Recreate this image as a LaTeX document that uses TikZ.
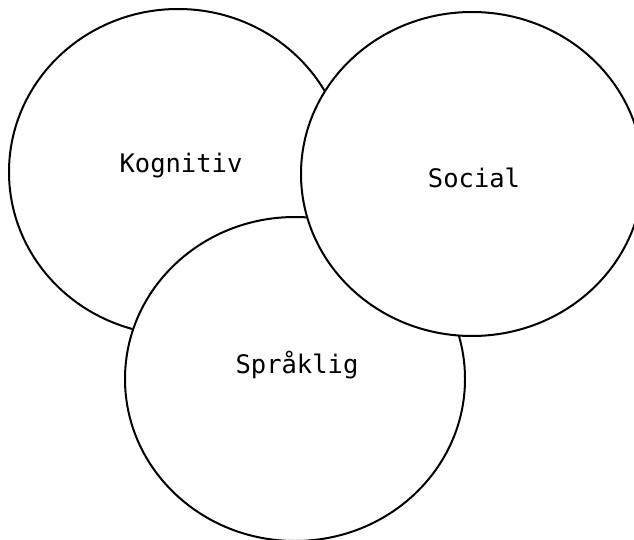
\documentclass[tikz,border=0pt]{standalone}
\usepackage{fontspec}
\setmonofont{DejaVu Sans Mono}
\begin{document}
\begin{tikzpicture}[x=1pt,y=-1pt,
  circ/.style={draw=black,line width=2pt,fill=white},
  lbl/.style={font=\ttfamily\fontsize{25.5}{29}\selectfont,anchor=base,inner sep=0pt}]
\useasboundingbox (0,0) rectangle (634,540);
\fill[white] (0,0) rectangle (634,540);
\clip (0,0) rectangle (634,540);
\coordinate (ck) at (178,172);
\coordinate (cs) at (295,379);
\coordinate (co) at (472,174);
\draw[circ] (ck) ellipse [x radius=169pt, y radius=163pt];
\draw[circ] (cs) ellipse [x radius=170pt, y radius=162pt];
\draw[circ] (co) ellipse [x radius=171pt, y radius=162pt];
\node[lbl] (kog) at (181,173) {Kognitiv};
\node[lbl] (soc) at (474,187) {Social};
\node[lbl] (spr) at (297,373) {Språklig};
\end{tikzpicture}
\end{document}
